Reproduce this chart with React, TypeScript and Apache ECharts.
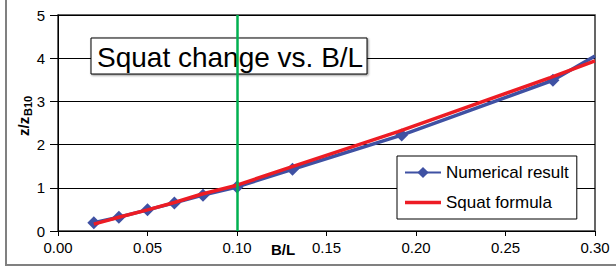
import React, { useEffect, useRef } from "react";
import * as echarts from "echarts";

const numericalBL = [0.02, 0.034, 0.05, 0.065, 0.081, 0.1, 0.131, 0.192, 0.2765, 0.3];
const numericalZ = [0.19, 0.32, 0.49, 0.65, 0.83, 1.02, 1.43, 2.22, 3.49, 4.05];
const formulaBL = [0.02, 0.035, 0.05, 0.065, 0.08, 0.1, 0.13, 0.19, 0.275, 0.3];
const formulaZ = [0.16, 0.33, 0.49, 0.66, 0.85, 1.06, 1.48, 2.3, 3.55, 3.94];
const markerBL = 0.1;
const xTicks = [0, 0.05, 0.1, 0.15, 0.2, 0.25, 0.3];
const yTicks = [0, 1, 2, 3, 4, 5];
const titleText = "Squat change vs. B/L";

const FONT = "'Liberation Sans', Arial, sans-serif";

export default function App() {
  const ref = useRef<HTMLDivElement>(null);
  useEffect(() => {
    if (!ref.current) return;
    const chart = echarts.init(ref.current, undefined, { renderer: "svg" });
    const blue = "#3f51a3";
    const red = "#ed1c24";
    chart.setOption({
      animation: false,
      backgroundColor: "#fff",
      textStyle: { fontFamily: FONT },
      grid: {
        left: 58,
        right: 21,
        top: 15,
        bottom: 40,
        show: true,
        borderColor: "#333",
        borderWidth: 1.5,
        z: 0,
      },
      xAxis: {
        type: "value",
        min: xTicks[0],
        max: xTicks[xTicks.length - 1],
        interval: 0.05,
        axisLine: { show: true, lineStyle: { color: "#000", width: 1 } },
        axisTick: { show: true, inside: false, length: 5, lineStyle: { color: "#000" } },
        splitLine: { show: false },
        axisLabel: {
          margin: 9,
          fontSize: 15,
          color: "#000",
          fontFamily: FONT,
          formatter: (v: number) => v.toFixed(2),
        },
      },
      yAxis: {
        type: "value",
        min: yTicks[0],
        max: yTicks[yTicks.length - 1],
        interval: 1,
        axisLine: { show: true, lineStyle: { color: "#000", width: 1 } },
        axisTick: { show: true, inside: false, length: 8, lineStyle: { color: "#000" } },
        splitLine: { show: true, lineStyle: { color: "#000", width: 1 } },
        axisLabel: { margin: 13, fontSize: 15, color: "#000", fontFamily: FONT },
      },
      legend: {
        orient: "vertical",
        left: 397,
        top: 156,
        padding: [8, 8, 8, 7],
        borderColor: "#000",
        borderWidth: 1,
        backgroundColor: "#fff",
        itemWidth: 36,
        itemHeight: 14,
        itemGap: 13,
        textStyle: { fontSize: 17, color: "#000", fontFamily: FONT, lineHeight: 16 },
        data: [
          { name: "Numerical result" },
          { name: "Squat formula", icon: "path://M0,0 L36,0 L36,3.5 L0,3.5 Z" },
        ],
      },
      graphic: [
        {
          type: "rect",
          z: 100,
          shape: { x: 6, y: -10, width: 640, height: 275 },
          style: { fill: "none", stroke: "#808080", lineWidth: 2 },
          silent: true,
        },
        {
          type: "rect",
          z: 1,
          shape: { x: 91, y: 38, width: 276, height: 36 },
          style: {
            fill: "#fff",
            stroke: "#000",
            lineWidth: 1,
            shadowBlur: 2,
            shadowOffsetX: 1,
            shadowOffsetY: 1,
            shadowColor: "rgba(0,0,0,0.45)",
          },
        },
        {
          type: "text",
          z: 1,
          x: 97,
          y: 57,
          style: {
            text: titleText,
            fontSize: 28,
            fontFamily: FONT,
            fill: "#000",
            verticalAlign: "middle",
            align: "left",
          },
        },
        {
          type: "text",
          z: 1,
          x: 23.5,
          y: 136,
          rotation: Math.PI / 2,
          style: {
            text: "z/z",
            fontSize: 15,
            fontWeight: "bold",
            fontFamily: FONT,
            fill: "#000",
            align: "left",
            verticalAlign: "middle",
          },
        },
        {
          type: "text",
          z: 1,
          x: 28,
          y: 116,
          rotation: Math.PI / 2,
          style: {
            text: "B10",
            fontSize: 11,
            fontWeight: "bold",
            fontFamily: FONT,
            fill: "#000",
            align: "left",
            verticalAlign: "middle",
          },
        },
        {
          type: "text",
          z: 1,
          x: 271,
          y: 249,
          style: {
            text: "B/L",
            fontSize: 15,
            fontWeight: "bold",
            fontFamily: FONT,
            fill: "#000",
            verticalAlign: "middle",
            align: "left",
          },
        },
      ],
      series: [
        {
          name: "Numerical result",
          type: "line",
          clip: true,
          data: numericalBL.map((x, i) =>
            i === numericalBL.length - 1
              ? { value: [x, numericalZ[i]], symbol: "none" }
              : [x, numericalZ[i]]
          ),
          symbol: "diamond",
          symbolSize: 13,
          color: blue,
          lineStyle: { color: blue, width: 3.5 },
          itemStyle: { color: blue },
          z: 2,
        },
        {
          name: "Squat formula",
          type: "line",
          clip: true,
          data: formulaBL.map((x, i) => [x, formulaZ[i]]),
          symbol: "none",
          color: red,
          itemStyle: { color: red },
          lineStyle: { color: red, width: 3.5 },
          z: 3,
          markLine: {
            silent: true,
            symbol: "none",
            label: { show: false },
            lineStyle: { color: "#00b050", width: 2.5, type: "solid" },
            data: [{ xAxis: markerBL }],
          },
        },
      ],
    });
    return () => chart.dispose();
  }, []);
  return (
    <div
      ref={ref}
      style={{ position: "fixed", left: 0, top: 0, width: 616, height: 271 }}
    />
  );
}
